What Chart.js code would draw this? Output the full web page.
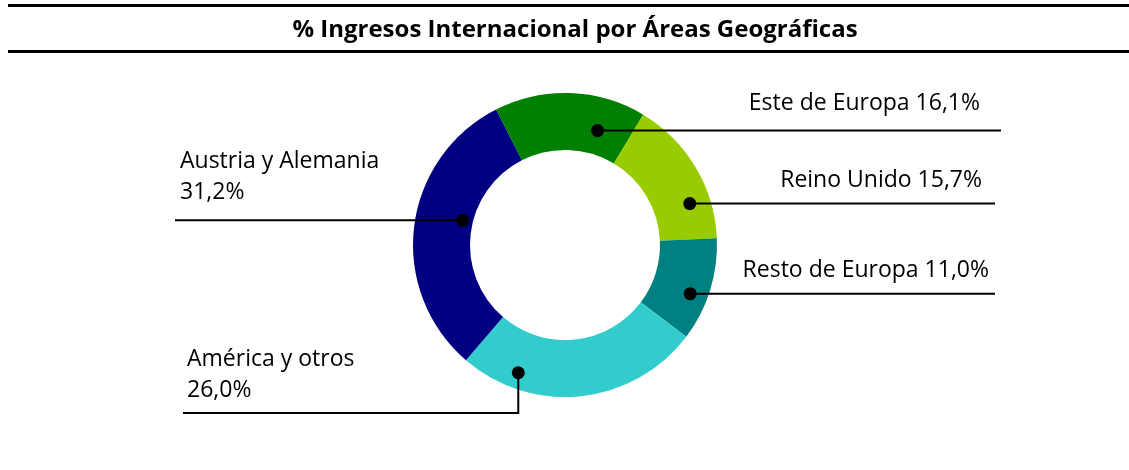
<!DOCTYPE html>
<html>
<head>
<meta charset="utf-8">
<script src="https://cdn.jsdelivr.net/npm/chart.js@4.4.0/dist/chart.umd.min.js"></script>
<style>
  html, body { margin: 0; padding: 0; background: #fff; }
  #wrap { width: 1129px; height: 470px; position: relative; }
</style>
</head>
<body>
<div id="wrap"><canvas id="areasChart"></canvas></div>
<script>
// datos
const areas = ['Este de Europa', 'Reino Unido', 'Resto de Europa', 'América y otros', 'Austria y Alemania'];
const porcentajes = [16.1, 15.7, 11.0, 26.0, 31.2];
const colores = ['#008000', '#99cc00', '#008080', '#33cccc', '#000080'];
const titulo = '% Ingresos Internacional por Áreas Geográficas';

// posición de las etiquetas (f = fracción del ángulo del sector, g = fracción del grosor)
const etiquetas = [
  { f: 0.74, g: 0.42, lado: 'der', finX: 1001, textX: 980, textY: 110 },
  { f: 0.72, g: 0.64, lado: 'der', finX: 995, textX: 982, textY: 187 },
  { f: 0.60, g: 0.69, lado: 'der', finX: 995, textX: 989, textY: 277 },
  { f: 0.78, g: 0.72, lado: 'izq', codoY: 413, finX: 183, textX: 187, textY: 366 },
  { f: 0.56, g: 0.18, lado: 'izq', finX: 175, textX: 180, textY: 168 }
];

const fmt = v => v.toFixed(1).replace('.', ',') + '%';

const decoracion = {
  id: 'decoracion',
  afterDraw(chart) {
    const ctx = chart.ctx;
    const w = chart.width;
    ctx.save();
    // título y líneas
    ctx.fillStyle = '#000';
    ctx.fillRect(8, 4, w - 8, 3);
    ctx.fillRect(8, 50, w - 8, 3);
    ctx.font = 'bold 24px "Open Sans"';
    ctx.textAlign = 'center';
    ctx.textBaseline = 'alphabetic';
    ctx.fillText(titulo, 575, 37);

    // etiquetas con líneas guía
    const arcs = chart.getDatasetMeta(0).data;
    ctx.font = '23px "Open Sans"';
    ctx.strokeStyle = '#000';
    ctx.lineWidth = 2;
    arcs.forEach((arc, i) => {
      const e = etiquetas[i];
      const ang = arc.startAngle + e.f * (arc.endAngle - arc.startAngle);
      const r = arc.innerRadius + e.g * (arc.outerRadius - arc.innerRadius);
      const px = arc.x + Math.cos(ang) * r;
      const py = arc.y + Math.sin(ang) * r;
      ctx.beginPath();
      ctx.moveTo(px, py);
      if (e.codoY) {
        ctx.lineTo(px, e.codoY);
        ctx.lineTo(e.finX, e.codoY);
      } else {
        ctx.lineTo(e.finX, py);
      }
      ctx.stroke();
      ctx.beginPath();
      ctx.arc(px, py, 6.5, 0, Math.PI * 2);
      ctx.fill();

      if (e.lado === 'der') {
        ctx.textAlign = 'right';
        ctx.fillText(areas[i] + ' ' + fmt(porcentajes[i]), e.textX, e.textY);
      } else {
        ctx.textAlign = 'left';
        ctx.fillText(areas[i], e.textX, e.textY);
        ctx.fillText(fmt(porcentajes[i]), e.textX, e.textY + 31);
      }
    });
    ctx.restore();
  }
};

const ctx = document.getElementById('areasChart').getContext('2d');
const grafico = new Chart(ctx, {
  type: 'doughnut',
  data: {
    labels: areas,
    datasets: [{
      data: porcentajes,
      backgroundColor: colores,
      borderWidth: 0
    }]
  },
  options: {
    responsive: true,
    maintainAspectRatio: false,
    animation: false,
    rotation: -27,
    cutout: '62.5%',
    layout: { padding: { top: 93, bottom: 73, left: 413, right: 412 } },
    plugins: {
      legend: { display: false },
      tooltip: { enabled: false }
    }
  },
  plugins: [decoracion]
});
</script>
</body>
</html>
